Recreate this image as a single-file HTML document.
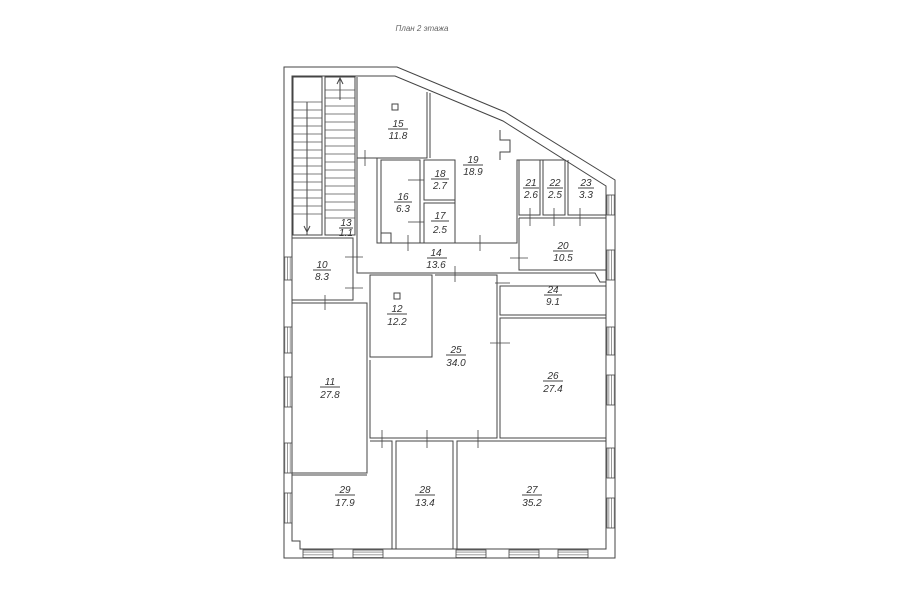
<!DOCTYPE html>
<html><head><meta charset="utf-8"><style>
html,body{margin:0;padding:0;background:#fff;}
svg{display:block}
text{font-family:"Liberation Sans",sans-serif;font-style:italic;fill:#333;font-size:10px;text-anchor:middle}
</style></head><body>
<svg width="900" height="604" viewBox="0 0 900 604" xmlns="http://www.w3.org/2000/svg">
<defs>
<pattern id="hh" width="4" height="2.7" patternUnits="userSpaceOnUse"><line x1="0" y1="1.3" x2="4" y2="1.3" stroke="#555" stroke-width="0.6"/></pattern>
<pattern id="vv" width="2.7" height="4" patternUnits="userSpaceOnUse"><line x1="1.3" y1="0" x2="1.3" y2="4" stroke="#555" stroke-width="0.6"/></pattern>
</defs>
<rect width="900" height="604" fill="#fff"/>
<text x="422" y="31" style="font-size:8px;fill:#666">План 2 этажа</text>
<g fill="none" stroke="#444" stroke-width="1">
<path d="M284 67 L397 67 L505 112 L615 180 L615 558 L284 558 Z"/>
<path d="M292 76 L395 76 L503 121 L606 186 L606 549 L300 549 L300 541 L292 541 Z"/>
<rect x="293" y="77" width="29" height="158"/>
<rect x="325" y="77" width="30" height="158"/>
<line x1="307" y1="102" x2="307" y2="235"/>
<line x1="340" y1="78" x2="340" y2="100"/>
<path d="M337 84 L340 78 L343 84"/>
<path d="M304 226 L307 232 L310 226"/>
</g>
<g stroke="#555" stroke-width="0.8">
<line x1="293" y1="102" x2="322" y2="102"/><line x1="293" y1="110" x2="322" y2="110"/><line x1="293" y1="118" x2="322" y2="118"/><line x1="293" y1="126" x2="322" y2="126"/><line x1="293" y1="134" x2="322" y2="134"/><line x1="293" y1="142" x2="322" y2="142"/><line x1="293" y1="150" x2="322" y2="150"/><line x1="293" y1="158" x2="322" y2="158"/><line x1="293" y1="166" x2="322" y2="166"/><line x1="293" y1="174" x2="322" y2="174"/><line x1="293" y1="182" x2="322" y2="182"/><line x1="293" y1="190" x2="322" y2="190"/><line x1="293" y1="198" x2="322" y2="198"/><line x1="293" y1="206" x2="322" y2="206"/><line x1="293" y1="214" x2="322" y2="214"/>
<line x1="325" y1="90" x2="355" y2="90"/><line x1="325" y1="98" x2="355" y2="98"/><line x1="325" y1="106" x2="355" y2="106"/><line x1="325" y1="114" x2="355" y2="114"/><line x1="325" y1="122" x2="355" y2="122"/><line x1="325" y1="130" x2="355" y2="130"/><line x1="325" y1="138" x2="355" y2="138"/><line x1="325" y1="146" x2="355" y2="146"/><line x1="325" y1="154" x2="355" y2="154"/><line x1="325" y1="162" x2="355" y2="162"/><line x1="325" y1="170" x2="355" y2="170"/><line x1="325" y1="178" x2="355" y2="178"/><line x1="325" y1="186" x2="355" y2="186"/><line x1="325" y1="194" x2="355" y2="194"/><line x1="325" y1="202" x2="355" y2="202"/><line x1="325" y1="210" x2="355" y2="210"/><line x1="325" y1="218" x2="355" y2="218"/>
</g>
<g fill="none" stroke="#444" stroke-width="1">
<path d="M357 77 L357 158 L427 158 L427 92"/>
<path d="M430 93 L430 158"/>
<path d="M455 160 L455 243 L517 243 L517 160 L565 160"/>
<path d="M500 130 L500 140 L510 140 L510 152 L500 152 L500 160"/>
<rect x="381" y="160" width="39" height="83"/>
<rect x="424" y="160" width="31" height="40"/>
<rect x="424" y="203" width="31" height="40"/>
<rect x="381" y="233" width="10" height="10"/>
<rect x="519" y="160" width="21" height="55"/>
<rect x="543" y="160" width="22" height="55"/>
<path d="M568 160 L568 215 L606 215"/>
<path d="M519 218 L606 218 M519 218 L519 270 L606 270"/>
<path d="M357 158 L357 273 L517 273"/>
<path d="M377 158 L377 243 L455 243"/>
<rect x="292" y="238" width="61" height="62"/>
<rect x="292" y="303" width="75" height="170"/>
<rect x="370" y="275" width="62" height="82"/>
<path d="M435 275 L497 275 L497 438 L370 438 L370 360"/>
<path d="M500 273 L595 273 L600 282 L606 282"/>
<rect x="500" y="286" width="106" height="29"/>
<rect x="500" y="318" width="106" height="120"/>
<path d="M370 441 L392 441 L392 549"/>
<rect x="396" y="441" width="57" height="108"/>
<rect x="457" y="441" width="149" height="108"/>
<path d="M292 475 L367 475"/>
<rect x="392" y="104" width="6" height="6"/><rect x="394" y="293" width="6" height="6"/>
</g>
<g stroke="#444" stroke-width="0.8">
<g fill="url(#hh)">
<rect x="303" y="550" width="30" height="8"/><rect x="353" y="550" width="30" height="8"/><rect x="456" y="550" width="30" height="8"/><rect x="509" y="550" width="30" height="8"/><rect x="558" y="550" width="30" height="8"/>
</g>
<g fill="url(#vv)">
<rect x="284" y="257" width="8" height="23"/><rect x="284" y="327" width="8" height="26"/><rect x="284" y="377" width="8" height="30"/><rect x="284" y="443" width="8" height="30"/><rect x="284" y="493" width="8" height="30"/>
<rect x="607" y="195" width="8" height="20"/><rect x="607" y="250" width="8" height="30"/><rect x="607" y="327" width="8" height="28"/><rect x="607" y="375" width="8" height="30"/><rect x="607" y="448" width="8" height="30"/><rect x="607" y="498" width="8" height="30"/>
</g>
</g>
<g stroke="#444" stroke-width="0.8">
<line x1="365" y1="150" x2="365" y2="166"/><line x1="408" y1="180" x2="424" y2="180"/><line x1="408" y1="222" x2="424" y2="222"/>
<line x1="408" y1="235" x2="408" y2="251"/><line x1="480" y1="235" x2="480" y2="251"/>
<line x1="530" y1="208" x2="530" y2="226"/><line x1="554" y1="208" x2="554" y2="226"/><line x1="580" y1="208" x2="580" y2="226"/>
<line x1="510" y1="258" x2="528" y2="258"/><line x1="455" y1="266" x2="455" y2="282"/>
<line x1="345" y1="257" x2="363" y2="257"/><line x1="345" y1="288" x2="363" y2="288"/><line x1="325" y1="295" x2="325" y2="310"/>
<line x1="490" y1="343" x2="510" y2="343"/><line x1="495" y1="283" x2="510" y2="283"/>
<line x1="382" y1="430" x2="382" y2="448"/><line x1="427" y1="430" x2="427" y2="448"/><line x1="478" y1="430" x2="478" y2="448"/>
</g>
<g>
<text x="398" y="127">15</text><line x1="388" y1="129" x2="408" y2="129" stroke="#444"/><text x="398" y="139">11.8</text>
<text x="473" y="163">19</text><line x1="463" y1="165" x2="483" y2="165" stroke="#444"/><text x="473" y="175">18.9</text>
<text x="403" y="200">16</text><line x1="394" y1="202" x2="412" y2="202" stroke="#444"/><text x="403" y="212">6.3</text>
<text x="440" y="177">18</text><line x1="431" y1="179" x2="449" y2="179" stroke="#444"/><text x="440" y="189">2.7</text>
<text x="440" y="219">17</text><line x1="431" y1="221" x2="449" y2="221" stroke="#444"/><text x="440" y="233">2.5</text>
<text x="531" y="186">21</text><line x1="523" y1="188" x2="539" y2="188" stroke="#444"/><text x="531" y="198">2.6</text>
<text x="555" y="186">22</text><line x1="547" y1="188" x2="563" y2="188" stroke="#444"/><text x="555" y="198">2.5</text>
<text x="586" y="186">23</text><line x1="578" y1="188" x2="594" y2="188" stroke="#444"/><text x="586" y="198">3.3</text>
<text x="346" y="226">13</text><line x1="339" y1="228" x2="353" y2="228" stroke="#444"/><text x="346" y="236">1.1</text>
<text x="436" y="256">14</text><line x1="427" y1="258" x2="447" y2="258" stroke="#444"/><text x="436" y="268">13.6</text>
<text x="563" y="249">20</text><line x1="553" y1="251" x2="573" y2="251" stroke="#444"/><text x="563" y="261">10.5</text>
<text x="322" y="268">10</text><line x1="313" y1="270" x2="331" y2="270" stroke="#444"/><text x="322" y="280">8.3</text>
<text x="553" y="293">24</text><line x1="544" y1="295" x2="562" y2="295" stroke="#444"/><text x="553" y="305">9.1</text>
<text x="397" y="312">12</text><line x1="387" y1="314" x2="407" y2="314" stroke="#444"/><text x="397" y="325">12.2</text>
<text x="456" y="353">25</text><line x1="446" y1="355" x2="466" y2="355" stroke="#444"/><text x="456" y="366">34.0</text>
<text x="553" y="379">26</text><line x1="543" y1="381" x2="563" y2="381" stroke="#444"/><text x="553" y="392">27.4</text>
<text x="330" y="385">11</text><line x1="320" y1="387" x2="340" y2="387" stroke="#444"/><text x="330" y="398">27.8</text>
<text x="345" y="493">29</text><line x1="335" y1="495" x2="355" y2="495" stroke="#444"/><text x="345" y="506">17.9</text>
<text x="425" y="493">28</text><line x1="415" y1="495" x2="435" y2="495" stroke="#444"/><text x="425" y="506">13.4</text>
<text x="532" y="493">27</text><line x1="522" y1="495" x2="542" y2="495" stroke="#444"/><text x="532" y="506">35.2</text>
</g>
</svg>
</body></html>
